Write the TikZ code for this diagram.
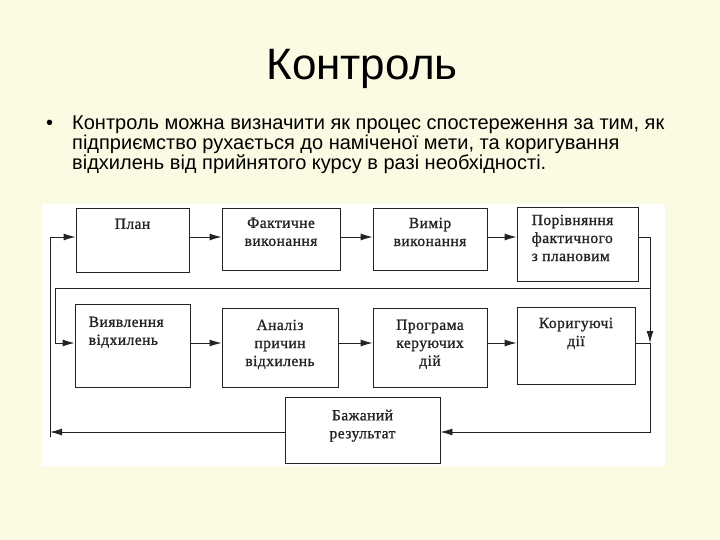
\documentclass[tikz,border=0pt]{standalone}
\usepackage{fontspec}
\setmainfont{Liberation Serif}
\newfontfamily\slidefont{Liberation Sans}
\newfontfamily\boxfont[LetterSpace=3, FakeBold=1]{Liberation Serif}
\usepackage{xcolor}
\usetikzlibrary{arrows.meta,positioning,calc}
\definecolor{slidebg}{RGB}{251,251,227}
\definecolor{ink}{RGB}{35,35,35}

\begin{document}
\begin{tikzpicture}[x = 1pt, y = -1pt,
    box/.style = {draw = ink, line width = .9pt, inner sep = 0pt},
    txt/.style = {font = \boxfont\fontsize{15.5}{18}\selectfont, text = ink, inner sep = 0pt},
    inside/.style = {txt, anchor = north, align = center, yshift = -11pt},
    link/.style = {draw = ink, line width = .9pt, -{Latex[length=12pt,width=7pt]}}]
    \fill[slidebg] (0,0) rectangle (720,540);
    \useasboundingbox (0,0) rectangle (720,540);
    \fill[white] (42,204) rectangle (665,466);
    %%%%%%%%%%
    \node[font = \slidefont\fontsize{44}{50}\selectfont] (title) at (362,69) {Контроль};
    \node[font = \slidefont\fontsize{20}{20.2}\selectfont, anchor = north west, align = left, inner sep = 0pt] (text) at (72,115.5) {Контроль можна визначити як процес спостереження за тим, як\\підприємство рухається до наміченої мети, та коригування\\відхилень від прийнятого курсу в разі необхідності.};
    \node[font = \slidefont\fontsize{20}{20}\selectfont, anchor = base west, inner sep = 0pt] (dot) at (46,130) {•};
    %%%%%%%%%%
    \node[box, minimum width = 113pt, minimum height = 64pt, label = {[inside]north:План}] (plan) at (132.5,240) {};
    \node[box, minimum width = 118pt, minimum height = 62pt, label = {[inside, yshift = 1pt]north:Фактичне\\виконання}] (fact) at (281,239) {};
    \node[box, minimum width = 114pt, minimum height = 62pt, label = {[inside, yshift = 1pt]north:Вимір\\виконання}] (vymir) at (430,239) {};
    \node[box, minimum width = 121pt, minimum height = 74pt, label = {[txt, anchor = north west, align = left, xshift = 15pt, yshift = -8pt]north west:Порівняння\\фактичного\\з плановим}] (porivn) at (577.5,244) {};
    %%%%%%%%%%
    \node[box, minimum width = 115pt, minimum height = 83pt, label = {[txt, anchor = north west, align = left, xshift = 14pt, yshift = -13pt]north west:Виявлення\\відхилень}] (vyiav) at (132.5,345.5) {};
    \node[box, minimum width = 116pt, minimum height = 79pt, label = {[inside, yshift = -1pt]north:Аналіз\\причин\\відхилень}] (analiz) at (280,347.5) {};
    \node[box, minimum width = 114pt, minimum height = 79pt, label = {[inside, yshift = -1pt]north:Програма\\керуючих\\дій}] (prohr) at (430,347.5) {};
    \node[box, minimum width = 118pt, minimum height = 77pt, label = {[inside]north:Коригуючі\\дії}] (koryh) at (576,345.5) {};
    \node[box, minimum width = 155pt, minimum height = 66pt, label = {[inside, yshift = -2pt]north:Бажаний\\результат}] (bazh) at (362.5,430) {};
    %%%%%%%%%%
    \coordinate (ne) at (650,237);
    \coordinate (tee) at (650,288);
    \coordinate (jn) at (650,343);
    \coordinate (se) at (650,432);
    \coordinate (nw) at (50,237);
    \coordinate (sw) at (50,437);
    \coordinate (mw) at (55,288);
    %%%%%%%%%%
    \draw[link] (plan.east |- ne) -- (fact.west |- ne);
    \draw[link] (fact.east |- ne) -- (vymir.west |- ne);
    \draw[link] (vymir.east |- ne) -- (porivn.west |- ne);
    \draw[link] (porivn.east |- ne) -- (ne) -- (jn);
    \draw[link] (koryh.east |- jn) -- (jn) -- (se) -- (bazh.east |- se);
    \draw[link] (tee) -- (mw) -- (mw |- jn) -- (vyiav.west |- jn);
    \draw[link] (vyiav.east |- jn) -- (analiz.west |- jn);
    \draw[link] (analiz.east |- jn) -- (prohr.west |- jn);
    \draw[link] (prohr.east |- jn) -- (koryh.west |- jn);
    % result goes back to the plan
    \draw[link] (bazh.west |- se) -- (nw |- se);
    \draw[link] (sw) -- (nw) -- (plan.west |- nw);
\end{tikzpicture}
\end{document}
